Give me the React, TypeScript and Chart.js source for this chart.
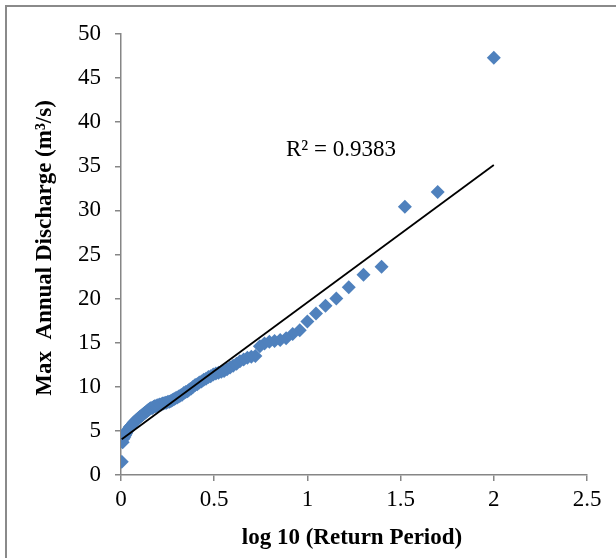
import React, { useEffect, useRef } from "react";
import { Chart, registerables } from "chart.js";

Chart.register(...registerables);

// log10 of the return period for each ranked annual maximum
const logReturnPeriod: number[] = [
  2.0, 1.699, 1.523, 1.398, 1.301, 1.222, 1.155, 1.097, 1.046, 1.0,
  0.959, 0.921, 0.886, 0.854, 0.824, 0.796, 0.77, 0.745, 0.721, 0.699,
  0.678, 0.658, 0.638, 0.62, 0.602, 0.585, 0.569, 0.553, 0.538, 0.523,
  0.509, 0.495, 0.481, 0.469, 0.456, 0.444, 0.432, 0.42, 0.409, 0.398,
  0.387, 0.377, 0.367, 0.357, 0.347, 0.337, 0.328, 0.319, 0.31, 0.301,
  0.292, 0.284, 0.276, 0.268, 0.26, 0.252, 0.244, 0.237, 0.229, 0.222,
  0.215, 0.208, 0.201, 0.194, 0.187, 0.18, 0.174, 0.168, 0.161, 0.155,
  0.149, 0.143, 0.137, 0.131, 0.125, 0.119, 0.114, 0.108, 0.102, 0.097,
  0.092, 0.086, 0.081, 0.076, 0.071, 0.066, 0.06, 0.056, 0.051, 0.046,
  0.041, 0.036, 0.031, 0.027, 0.022, 0.018, 0.013, 0.009, 0.004,
];

// Max annual discharge (m³/s), same order as above
const maxDischarge: number[] = [
  47.3, 32.1, 30.4, 23.6, 22.7, 21.3, 20.0, 19.2, 18.3, 17.4,
  16.4, 16.0, 15.5, 15.3, 15.2, 15.1, 14.9, 14.6, 13.5, 13.4,
  13.3, 13.1, 12.9, 12.6, 12.4, 12.2, 12.0, 11.8, 11.7, 11.6,
  11.5, 11.4, 11.2, 11.1, 10.9, 10.8, 10.6, 10.5, 10.3, 10.2,
  10.0, 9.8, 9.7, 9.5, 9.4, 9.3, 9.1, 9.0, 8.9, 8.8,
  8.7, 8.6, 8.5, 8.4, 8.3, 8.3, 8.2, 8.2, 8.1, 8.1,
  8.0, 8.0, 7.9, 7.9, 7.8, 7.8, 7.7, 7.6, 7.6, 7.5,
  7.4, 7.3, 7.2, 7.1, 7.0, 6.9, 6.8, 6.7, 6.6, 6.5,
  6.4, 6.3, 6.2, 6.1, 6.0, 5.9, 5.7, 5.6, 5.5, 5.4,
  5.2, 5.1, 4.9, 4.7, 4.5, 4.3, 4.1, 3.7, 1.5,
];

// linear trendline: discharge = trendIntercept + trendSlope * log10(T)
const trendIntercept = 4.0;
const trendSlope = 15.57;

const xTicks: number[] = [0, 0.5, 1, 1.5, 2, 2.5];
const yTicks: number[] = [0, 5, 10, 15, 20, 25, 30, 35, 40, 45, 50];

const rSquaredLabel = "R² = 0.9383";
const xTitle = "log 10 (Return Period)";
const yTitle = "Max  Annual Discharge (m³/s)";

const FONT = "'Liberation Serif', 'Times New Roman', serif";
const MARKER = "#4F81BD";
const AXIS = "#868686";

const decorations = {
  id: "decorations",
  beforeDraw(chart: any) {
    const { ctx, width, height } = chart;
    ctx.save();
    ctx.fillStyle = "#ffffff";
    ctx.fillRect(0, 0, width, height);
    // frame around the chart
    ctx.strokeStyle = "#8a8a8a";
    ctx.lineWidth = 2;
    ctx.beginPath();
    ctx.moveTo(6, height + 2);
    ctx.lineTo(6, 6);
    ctx.lineTo(width + 2, 6);
    ctx.stroke();
    ctx.restore();
  },
  afterDraw(chart: any) {
    const { ctx, scales } = chart;
    const xs = scales.x;
    const ys = scales.y;
    ctx.save();
    ctx.fillStyle = "#000000";
    ctx.textBaseline = "middle";
    ctx.font = `23px ${FONT}`;
    // tick labels
    ctx.textAlign = "right";
    yTicks.forEach((v) => ctx.fillText(String(v), 101, ys.getPixelForValue(v)));
    ctx.textAlign = "center";
    xTicks.forEach((v) => ctx.fillText(String(v), xs.getPixelForValue(v), 500));
    // trendline R² label
    ctx.fillText(rSquaredLabel, 341, 150);
    // axis titles
    ctx.font = `bold 23px ${FONT}`;
    ctx.fillText(xTitle, 352, 538);
    ctx.translate(45, 248);
    ctx.rotate(-Math.PI / 2);
    ctx.fillText(yTitle, 0, 0);
    ctx.restore();
  },
};

export default function App() {
  const canvasRef = useRef<HTMLCanvasElement | null>(null);

  useEffect(() => {
    const canvas = canvasRef.current;
    if (!canvas) return;

    const points = logReturnPeriod.map((x, i) => ({ x, y: maxDischarge[i] }));
    const xMin = Math.min(...logReturnPeriod);
    const xMax = Math.max(...logReturnPeriod);
    const trend = [
      { x: xMin, y: trendIntercept + trendSlope * xMin },
      { x: xMax, y: trendIntercept + trendSlope * xMax },
    ];

    const axisStyle = {
      grid: {
        display: true,
        drawOnChartArea: false,
        drawTicks: true,
        tickLength: 6,
        color: AXIS,
        lineWidth: 1.5,
      },
      border: { display: true, color: AXIS, width: 1.5 },
    };

    const chart = new Chart(canvas, {
      type: "scatter",
      data: {
        datasets: [
          {
            type: "line",
            label: "Linear trend",
            data: trend,
            borderColor: "#000000",
            borderWidth: 1.8,
            pointRadius: 0,
            fill: false,
            order: 0,
          },
          {
            label: "Max annual discharge",
            data: points,
            pointStyle: "rectRot",
            pointRadius: 7,
            pointBackgroundColor: MARKER,
            pointBorderColor: MARKER,
            pointBorderWidth: 0,
            order: 1,
          },
        ],
      },
      options: {
        responsive: false,
        animation: false,
        events: [],
        layout: { padding: { top: 34, right: 29, left: 0, bottom: 0 } },
        plugins: {
          legend: { display: false },
          tooltip: { enabled: false },
        },
        scales: {
          x: {
            type: "linear",
            min: 0,
            max: 2.5,
            afterBuildTicks: (s: any) => {
              s.ticks = xTicks.map((v) => ({ value: v }));
            },
            afterFit: (s: any) => {
              s.height = 83;
            },
            ticks: { display: false },
            ...axisStyle,
          },
          y: {
            type: "linear",
            min: 0,
            max: 50,
            afterBuildTicks: (s: any) => {
              s.ticks = yTicks.map((v) => ({ value: v }));
            },
            afterFit: (s: any) => {
              s.width = 121;
            },
            ticks: { display: false },
            ...axisStyle,
          },
        },
      },
      plugins: [decorations],
    });

    return () => chart.destroy();
  }, []);

  return (
    <div style={{ position: "fixed", left: 0, top: 0, width: 616, height: 558 }}>
      <canvas ref={canvasRef} width={616} height={558} style={{ display: "block" }} />
    </div>
  );
}
